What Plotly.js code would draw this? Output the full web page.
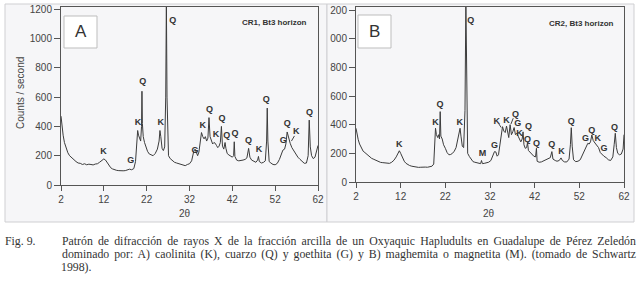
<!DOCTYPE html>
<html>
<head>
<meta charset="utf-8">
<script src="https://cdn.plot.ly/plotly-3.0.1.min.js"></script>
<style>html,body{margin:0;padding:0;background:#fff;}#chart{width:644px;height:281px;}</style>
</head>
<body>
<div id="chart"></div>
<script>
// ---- Panel A (CR1, Bt3 horizon): 2-theta and counts/second ----
const twoThetaA = [2.0,2.2,2.5,2.8,3.2,3.6,4.0,4.5,5.0,5.5,6.0,6.5,7.0,7.5,8.0,8.5,9.0,9.5,10.0,10.5,11.0,11.5,12.0,12.4,12.8,13.2,13.6,14.0,14.5,15.0,15.5,16.0,16.5,17.0,17.5,18.0,18.5,19.0,19.4,19.7,19.9,20.1,20.4,20.6,20.8,20.9,21.0,21.2,21.5,21.8,22.2,22.6,23.0,23.5,24.0,24.5,24.9,25.1,25.3,25.6,25.9,26.2,26.45,26.6,26.75,26.9,27.1,27.5,28.0,28.5,29.0,29.5,30.0,30.5,31.0,31.5,32.0,32.5,33.0,33.3,33.6,33.9,34.2,34.5,34.8,35.1,35.4,35.7,36.0,36.3,36.55,36.8,37.1,37.4,37.7,38.0,38.3,38.6,38.9,39.2,39.45,39.7,40.0,40.3,40.5,40.8,41.2,41.6,42.0,42.3,42.45,42.6,43.0,43.5,44.0,44.5,45.0,45.4,45.8,46.1,46.5,47.0,47.5,47.9,48.1,48.3,48.8,49.3,49.7,50.0,50.15,50.3,50.6,51.0,51.5,52.0,52.5,53.0,53.4,53.8,54.2,54.5,54.8,55.1,55.5,55.9,56.3,56.8,57.3,57.8,58.3,58.8,59.3,59.7,59.95,60.2,60.5,60.9,61.3,61.7,62.0];
const countsA = [470,400,340,290,250,220,200,185,170,160,150,148,140,145,138,142,140,137,143,145,155,170,178,170,150,130,118,110,104,100,98,100,97,98,103,108,104,112,160,300,372,340,320,300,400,640,420,330,290,260,230,212,205,200,215,245,300,372,330,250,235,260,600,1260,600,260,200,180,168,155,150,145,142,138,132,140,145,165,230,245,215,200,225,300,358,330,315,330,300,320,460,330,295,280,290,285,270,255,265,290,400,265,245,290,250,215,205,200,190,200,295,195,170,165,165,170,175,185,250,190,170,160,155,170,195,160,150,155,165,300,525,300,160,150,140,138,148,175,210,238,245,280,362,320,285,255,235,210,190,175,160,148,150,200,443,260,200,180,190,230,270];
const peakLabA = ["K","G","K","Q","K","Q","G","K","Q","K","Q","Q","Q","Q","K","Q","G","Q","K","Q"];
const peakPosA = [11.9,18.3,20.0,21.1,25.3,28.1,33.3,35.1,36.7,38.2,39.6,40.7,42.6,45.8,48.2,49.9,53.9,54.8,56.9,60.0];
const peakHtA  = [227,164,427,704,425,1120,234,407,511,343,452,338,350,302,239,580,300,416,361,493];

// ---- Panel B (CR2, Bt3 horizon) ----
const twoThetaB = [2.0,2.2,2.5,2.8,3.2,3.6,4.0,4.5,5.0,5.5,6.0,6.5,7.0,7.5,8.0,8.5,9.0,9.5,10.0,10.5,11.0,11.4,11.7,12.0,12.4,12.8,13.2,13.6,14.0,14.5,15.0,15.5,16.0,16.5,17.0,17.5,18.0,18.5,19.0,19.4,19.6,19.8,20.0,20.3,20.5,20.7,20.85,21.0,21.3,21.6,22.0,22.4,22.8,23.2,23.6,24.0,24.4,24.8,25.1,25.3,25.5,25.8,26.1,26.4,26.6,26.8,27.0,27.4,27.8,28.2,28.6,29.0,29.5,29.9,30.1,30.3,30.7,31.2,31.7,32.2,32.6,33.0,33.3,33.6,33.9,34.2,34.5,34.8,35.1,35.4,35.7,36.0,36.2,36.5,36.8,37.1,37.4,37.7,38.0,38.3,38.6,38.9,39.2,39.4,39.6,39.9,40.2,40.4,40.6,41.0,41.4,41.8,42.2,42.4,42.55,43.0,43.5,44.0,44.5,45.0,45.5,45.85,46.1,46.6,47.0,47.5,47.9,48.2,48.7,49.2,49.7,50.0,50.2,50.4,50.7,51.2,51.7,52.2,52.7,53.1,53.5,53.9,54.2,54.5,54.8,55.1,55.5,55.9,56.3,56.7,57.1,57.5,58.0,58.5,59.0,59.5,59.8,60.05,60.3,60.6,61.0,61.4,61.8,62.0];
const countsB = [375,330,295,265,235,215,205,190,175,165,158,150,145,137,135,132,128,130,138,152,175,200,218,200,165,145,130,120,115,110,106,104,102,103,101,104,103,106,110,125,250,375,330,310,330,300,491,320,300,260,235,205,190,192,200,215,240,300,365,375,320,250,240,500,1260,500,200,177,160,142,138,135,132,128,150,128,130,135,138,150,185,212,210,180,190,250,330,386,355,345,390,320,310,400,330,350,380,330,340,320,300,280,300,350,260,235,240,275,220,205,195,180,175,235,145,138,140,148,155,160,170,212,160,150,145,150,168,150,140,140,160,260,379,250,155,142,145,155,190,225,250,270,265,280,328,290,272,255,240,205,190,180,170,155,150,175,260,340,240,200,190,195,230,330];
const peakLabB = ["K","K","Q","K","Q","M","G","K","K","Q","G","K","Q","Q","Q","Q","K","Q","G","Q","K","G","Q"];
const peakPosB = [11.7,19.8,20.8,25.2,27.7,30.3,33.0,33.5,35.7,37.7,38.2,38.6,40.6,40.4,42.4,45.8,48.0,50.2,53.4,54.8,56.1,57.5,59.9];
const peakHtB  = [258,414,537,410,1125,195,253,419,426,470,408,340,385,298,270,258,212,419,305,356,305,230,379];

const yTickVals = [0,200,400,600,800,1000,1200];
const yTickTextA = ["0","200","400","600","800","1000","1200"];
const yTickTextB = ["0","200","400","600","800","000","200"];
const xTickVals = [2,12,22,32,42,52,62];

const captionNum = 'Fig. 9.';
const captionLines = [
  'Patrón de difracción de rayos X de la fracción arcilla de un Oxyaquic Hapludults en Guadalupe de Pérez Zeledón',
  'dominado por: A) caolinita (K), cuarzo (Q) y goethita (G) y B) maghemita o magnetita (M). (tomado de Schwartz',
  '1998).'
];

const W = 644, H = 281;
const px = v => v / W, py = v => 1 - v / H;

const lineStyle = {color:'#3c3c3c', width:1};
const labFont = {family:'Liberation Sans, Arial, sans-serif', size:9, color:'#333', weight:'bold'};

const traces = [
  {x:twoThetaA, y:countsA, type:'scatter', mode:'lines', line:lineStyle, xaxis:'x', yaxis:'y', hoverinfo:'skip'},
  {x:twoThetaB, y:countsB, type:'scatter', mode:'lines', line:lineStyle, xaxis:'x2', yaxis:'y2', hoverinfo:'skip'},
  {x:peakPosA, y:peakHtA, text:peakLabA, type:'scatter', mode:'text', textfont:labFont, cliponaxis:false, xaxis:'x', yaxis:'y', hoverinfo:'skip'},
  {x:peakPosB, y:peakHtB, text:peakLabB, type:'scatter', mode:'text', textfont:labFont, cliponaxis:false, xaxis:'x2', yaxis:'y2', hoverinfo:'skip'}
];

const tickFont = {family:'Liberation Sans, Arial, sans-serif', size:10, color:'#444'};
function xAx(dom, anchor){
  return {domain:dom, anchor:anchor, range:[2,62], tickvals:xTickVals, ticks:'outside', ticklen:5, tickcolor:'#555',
    showline:true, linecolor:'#555', linewidth:1, mirror:true, showgrid:false, zeroline:false, tickfont:tickFont, fixedrange:true};
}
function yAx(dom, anchor, top, txt){
  return {domain:dom, anchor:anchor, range:[0,top], tickvals:yTickVals, ticktext:txt, ticks:'outside', ticklen:6, tickcolor:'#555',
    showline:true, linecolor:'#555', linewidth:1, mirror:true, showgrid:false, zeroline:false, tickfont:tickFont, fixedrange:true};
}

const capFont = {family:'Liberation Serif, Times New Roman, serif', size:11.8, color:'#333'};
const axFont = {family:'Liberation Sans, Arial, sans-serif', size:10, color:'#444'};

const layout = {
  width:W, height:H, margin:{l:0,r:0,t:0,b:0},
  paper_bgcolor:'#ffffff', plot_bgcolor:'rgba(0,0,0,0)', showlegend:false,
  xaxis: xAx([px(61), px(318)], 'y'),
  yaxis: yAx([py(185), py(7)], 'x', 1215, yTickTextA),
  xaxis2: xAx([px(356), px(624)], 'y2'),
  yaxis2: yAx([py(182), py(7)], 'x2', 1221, yTickTextB),
  shapes: [
    {type:'rect', xref:'paper', yref:'paper', x0:px(5), x1:px(327), y0:py(222), y1:py(4), fillcolor:'#f6f6f8', line:{color:'#cfcfd2', width:1}, layer:'below'},
    {type:'rect', xref:'paper', yref:'paper', x0:px(327), x1:px(634), y0:py(222), y1:py(4), fillcolor:'#f6f6f8', line:{color:'#cfcfd2', width:1}, layer:'below'},
    {type:'rect', xref:'paper', yref:'paper', x0:px(64), x1:px(97), y0:py(48), y1:py(16), fillcolor:'#ffffff', line:{color:'#bdbdbd', width:1}},
    {type:'rect', xref:'paper', yref:'paper', x0:px(358), x1:px(391), y0:py(48), y1:py(15), fillcolor:'#ffffff', line:{color:'#bdbdbd', width:1}},
    {type:'line', xref:'x', yref:'y', x0:55.8, y0:300, x1:56.5, y1:335, line:{color:'#444', width:1}},
    {type:'line', xref:'x2', yref:'y2', x0:34.0, y0:405, x1:34.5, y1:380, line:{color:'#444', width:1}},
    {type:'line', xref:'x2', yref:'y2', x0:36.7, y0:405, x1:37.2, y1:445, line:{color:'#444', width:1}},
    {type:'line', xref:'x2', yref:'y2', x0:39.1, y0:330, x1:39.6, y1:305, line:{color:'#444', width:1}}
  ],
  annotations: [
    {xref:'paper', yref:'paper', x:px(80.5), y:py(32), text:'A', showarrow:false, xanchor:'center', yanchor:'middle', font:{family:'Liberation Sans, Arial, sans-serif', size:17, color:'#333'}},
    {xref:'paper', yref:'paper', x:px(374.5), y:py(31.5), text:'B', showarrow:false, xanchor:'center', yanchor:'middle', font:{family:'Liberation Sans, Arial, sans-serif', size:17, color:'#333'}},
    {xref:'paper', yref:'paper', x:px(309), y:py(23), text:'CR1, Bt3 horizon', showarrow:false, xanchor:'right', yanchor:'middle', font:{family:'Liberation Sans, Arial, sans-serif', size:8, color:'#333', weight:'bold'}},
    {xref:'paper', yref:'paper', x:px(616), y:py(24), text:'CR2, Bt3 horizon', showarrow:false, xanchor:'right', yanchor:'middle', font:{family:'Liberation Sans, Arial, sans-serif', size:8, color:'#333', weight:'bold'}},
    {xref:'paper', yref:'paper', x:px(21), y:py(93), text:'Counts / second', textangle:-90, showarrow:false, xanchor:'center', yanchor:'middle', font:axFont},
    {xref:'paper', yref:'paper', x:px(185), y:py(213), text:'2θ', showarrow:false, xanchor:'center', yanchor:'middle', font:axFont},
    {xref:'paper', yref:'paper', x:px(489), y:py(213), text:'2θ', showarrow:false, xanchor:'center', yanchor:'middle', font:axFont},
    {xref:'paper', yref:'paper', x:px(3), y:py(241), text:captionNum, showarrow:false, xanchor:'left', yanchor:'middle', font:capFont},
    {xref:'paper', yref:'paper', x:px(62), y:py(241), text:captionLines[0], showarrow:false, xanchor:'left', yanchor:'middle', font:capFont},
    {xref:'paper', yref:'paper', x:px(62), y:py(254), text:captionLines[1], showarrow:false, xanchor:'left', yanchor:'middle', font:capFont},
    {xref:'paper', yref:'paper', x:px(59), y:py(267), text:captionLines[2], showarrow:false, xanchor:'left', yanchor:'middle', font:capFont}
  ]
};

Plotly.newPlot('chart', traces, layout, {staticPlot:true, displayModeBar:false}).then(function(gd){
  // justify the first two caption lines between x=62 and x=636, as in the printed figure
  const left = 62, right = 636;
  const host = gd.getBoundingClientRect();
  gd.querySelectorAll('.annotation-text').forEach(function(t){
    const s = t.textContent;
    if (s === captionLines[0] || s === captionLines[1]) {
      const r0 = t.getBoundingClientRect();
      const spaces = (s.match(/ /g) || []).length;
      const extra = (right - left) - r0.width;
      if (spaces > 0 && extra > 0) t.style.wordSpacing = (extra / spaces).toFixed(3) + 'px';
      const r1 = t.getBoundingClientRect();
      const shift = left - (r1.left - host.left);
      const tr = t.getAttribute('transform') || '';
      t.setAttribute('transform', (tr + ' translate(' + shift.toFixed(2) + ',0)').trim());
    }
  });
});
</script>
</body>
</html>
